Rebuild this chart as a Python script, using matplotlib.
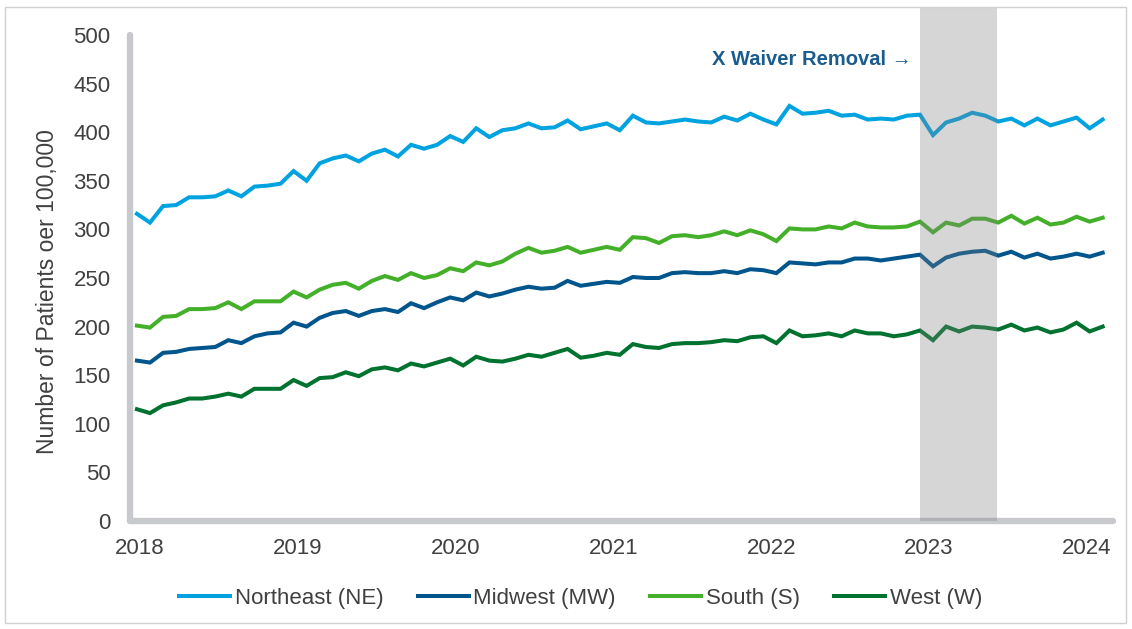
## Patients per 100,000 by census region, monthly 2018 - 2024
import matplotlib.pyplot as plt
import matplotlib.patches as patches

plt.rcParams['font.family'] = ['Liberation Sans', 'DejaVu Sans']

years = ['2018', '2019', '2020', '2021', '2022', '2023', '2024']

northeast = [316, 307, 324, 325, 333, 333, 334, 340, 334, 344, 345, 347,
             360, 350, 368, 373, 376, 370, 378, 382, 375, 387, 383, 387,
             396, 390, 404, 395, 402, 404, 409, 404, 405, 412, 403, 406,
             409, 402, 417, 410, 409, 411, 413, 411, 410, 416, 412, 419,
             413, 408, 427, 419, 420, 422, 417, 418, 413, 414, 413, 417,
             418, 397, 410, 414, 420, 417, 411, 414, 407, 414, 407, 411,
             415, 404, 413]
midwest = [165, 163, 173, 174, 177, 178, 179, 186, 183, 190, 193, 194,
           204, 200, 209, 214, 216, 211, 216, 218, 215, 224, 219, 225,
           230, 227, 235, 231, 234, 238, 241, 239, 240, 247, 242, 244,
           246, 245, 251, 250, 250, 255, 256, 255, 255, 257, 255, 259,
           258, 255, 266, 265, 264, 266, 266, 270, 270, 268, 270, 272,
           274, 262, 271, 275, 277, 278, 273, 277, 271, 275, 270, 272,
           275, 272, 276]
south = [201, 199, 210, 211, 218, 218, 219, 225, 218, 226, 226, 226,
         236, 230, 238, 243, 245, 239, 247, 252, 248, 255, 250, 253,
         260, 257, 266, 263, 267, 275, 281, 276, 278, 282, 276, 279,
         282, 279, 292, 291, 286, 293, 294, 292, 294, 298, 294, 299,
         295, 288, 301, 300, 300, 303, 301, 307, 303, 302, 302, 303,
         308, 297, 307, 304, 311, 311, 307, 314, 306, 312, 305, 307,
         313, 308, 312]
west = [115, 111, 119, 122, 126, 126, 128, 131, 128, 136, 136, 136,
        145, 139, 147, 148, 153, 149, 156, 158, 155, 162, 159, 163,
        167, 160, 169, 165, 164, 167, 171, 169, 173, 177, 168, 170,
        173, 171, 182, 179, 178, 182, 183, 183, 184, 186, 185, 189,
        190, 183, 196, 190, 191, 193, 190, 196, 193, 193, 190, 192,
        196, 186, 200, 195, 200, 199, 197, 202, 196, 199, 194, 197,
        204, 195, 200]

series = [('Northeast (NE)', northeast, '#00A3E0'),
          ('Midwest (MW)', midwest, '#00558C'),
          ('South (S)', south, '#44B02A'),
          ('West (W)', west, '#007230')]

## month index of the x waiver removal window (Jan 2023 .. mid 2023)
waiver_start = 60
waiver_end = 65.9

months = list(range(len(northeast)))

fig = plt.figure(figsize=(11.32, 6.29), dpi=100)
ax = fig.add_axes([0.1148, 0.1717, 0.8684, 0.7727])

for name, vals, col in series:
    ax.plot(months, vals, color=col, linewidth=2.9, label=name,
            solid_joinstyle='miter', zorder=2)

## grey band drawn over the lines, goes up past the axes top
ax.axvspan(waiver_start, waiver_end, ymin=0, ymax=1.056, color='#808080',
           alpha=0.32, lw=0, zorder=3, clip_on=False)

ax.text(59.4, 475, 'X Waiver Removal \u2192', ha='right', va='center',
        fontsize=14.5, fontweight='bold', color='#1B5C8E')

ax.set_xlim(-0.536, 74.79)
ax.set_ylim(0, 500)
ax.set_yticks(range(0, 501, 50))
## year labels sit a touch right of the January points in the original
ax.set_xticks([0.2 + 12.1*k for k in range(len(years))])
ax.set_xticklabels(years)

for s in ['top', 'right']:
    ax.spines[s].set_visible(False)
for s in ['left', 'bottom']:
    ax.spines[s].set_color('#C8C9CD')
    ax.spines[s].set_linewidth(4.6)
    ax.spines[s].set_capstyle('round')

ax.tick_params(axis='both', length=0, labelsize=16, labelcolor='#404040')
ax.tick_params(axis='y', pad=14)
ax.tick_params(axis='x', pad=12)

ax.set_ylabel('Number of Patients oer 100,000', fontsize=16.5, color='#404040')
ax.yaxis.set_label_coords(-0.0725, 0.472)

fig.legend(loc='center', bbox_to_anchor=(0.513, 0.049), ncol=4, frameon=False,
           fontsize=16, handlelength=2.3, handletextpad=0.2, columnspacing=1.55,
           labelcolor='#404040')

## thin frame round the whole picture
fig.patches.append(patches.Rectangle((5/1132, 6/629), 1121/1132, 616/629,
                                     transform=fig.transFigure, fill=False,
                                     edgecolor='#D0D0D0', linewidth=1))

fig.savefig('out.png', dpi=100)
